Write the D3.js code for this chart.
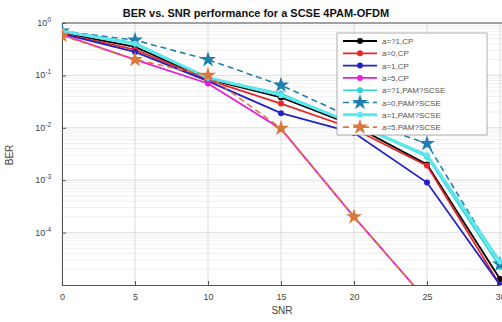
<!DOCTYPE html>
<html>
<head>
<meta charset="utf-8">
<script src="https://cdn.jsdelivr.net/npm/d3@7"></script>
<style>
  body { margin: 0; background: #fff; }
  text { font-family: "Liberation Sans", Arial, sans-serif; }
</style>
</head>
<body>
<svg id="svg" width="502" height="322"></svg>
<script>
// data
const snr = [0, 5, 10, 15, 20, 25, 30];
const berInfCP   = [0.65, 0.35, 0.085, 0.038, 0.011, 0.002, 1.3e-5];
const ber0CP     = [0.63, 0.31, 0.082, 0.029, 0.0095, 0.0019, 1.0e-5];
const ber1CP     = [0.62, 0.28, 0.078, 0.019, 0.008, 0.0009, 1.0e-5];
const ber5CP     = [0.6, 0.2, 0.07, 0.0095, 0.0002, 5e-6, 1e-7];
const berInfPAM  = [0.7, 0.42, 0.09, 0.045, 0.012, 0.0028, 2.2e-5];
const ber0PAM    = [0.7, 0.47, 0.2, 0.065, 0.015, 0.005, 2.5e-5];
const ber1PAM    = [0.7, 0.4, 0.09, 0.042, 0.012, 0.003, 2.8e-5];
const ber5PAM    = [0.58, 0.2, 0.1, 0.0098, 0.0002, 5e-6, 1e-7];
const seriesNames = ['a=?1,CP', 'a=0,CP', 'a=1,CP', 'a=5,CP', 'a=?1,PAM?SCSE', 'a=0,PAM?SCSE', 'a=1,PAM?SCSE', 'a=5,PAM?SCSE'];
const xTicks = [0, 5, 10, 15, 20, 25, 30];
const yTicks = [0, -1, -2, -3, -4];

const series = [
  {name: seriesNames[0], values: berInfCP,  color: '#000000', dash: null, marker: 'circle', width: 1.8},
  {name: seriesNames[1], values: ber0CP,    color: '#e8262b', dash: null, marker: 'circle', width: 1.8},
  {name: seriesNames[2], values: ber1CP,    color: '#2222c8', dash: null, marker: 'circle', width: 1.8},
  {name: seriesNames[3], values: ber5CP,    color: '#e81fd8', dash: null, marker: 'circle', width: 1.8},
  {name: seriesNames[4], values: berInfPAM, color: '#2ad8d0', dash: null, marker: 'circle', width: 1.6},
  {name: seriesNames[5], values: ber0PAM,   color: '#1f7fb0', dash: '6,4', marker: 'star', width: 1.6},
  {name: seriesNames[6], values: ber1PAM,   color: '#5ce6ee', dash: null, marker: 'circle', width: 3},
  {name: seriesNames[7], values: ber5PAM,   color: '#d9783c', dash: '6,4', marker: 'star', width: 1.6}
];

const svg = d3.select('#svg');
const mLeft = 62, mRight = 500, mTop = 23, mBottom = 285;

const x = d3.scaleLinear().domain([0, 30]).range([mLeft, mRight]);
const y = d3.scaleLog().domain([1e-5, 1]).range([mBottom, mTop]);

// minor grid
const minor = [];
for (let e = -5; e < 0; e++) for (let m = 2; m <= 9; m++) minor.push(m * Math.pow(10, e));
svg.append('g').selectAll('line').data(minor).join('line')
  .attr('x1', mLeft).attr('x2', 502)
  .attr('y1', d => y(d)).attr('y2', d => y(d))
  .attr('stroke', '#ebebeb').attr('stroke-width', 0.8);

// major grid
svg.append('g').selectAll('line').data(yTicks).join('line')
  .attr('x1', mLeft).attr('x2', 502)
  .attr('y1', d => y(Math.pow(10, d))).attr('y2', d => y(Math.pow(10, d)))
  .attr('stroke', '#d4d4d4').attr('stroke-width', 0.8);
svg.append('g').selectAll('line').data(xTicks).join('line')
  .attr('x1', d => x(d)).attr('x2', d => x(d))
  .attr('y1', mTop).attr('y2', mBottom)
  .attr('stroke', '#d4d4d4').attr('stroke-width', 0.8);

// axes
const xAxis = d3.axisBottom(x).tickValues(xTicks).tickSize(-4).tickPadding(9);
const xg = svg.append('g').attr('transform', `translate(0,${mBottom})`).call(xAxis);
xg.select('.domain').attr('stroke', '#555');
xg.selectAll('.tick line').attr('stroke', '#555');
xg.selectAll('.tick text').attr('font-size', 9).attr('fill', '#444');

const yAxis = d3.axisLeft(y).tickValues(yTicks.map(d => Math.pow(10, d))).tickSize(-4).tickFormat('');
const yg = svg.append('g').attr('transform', `translate(${mLeft},0)`).call(yAxis);
yg.select('.domain').attr('stroke', '#555');
yg.selectAll('.tick line').attr('stroke', '#555');
svg.append('line').attr('x1', mLeft).attr('x2', 502).attr('y1', mTop).attr('y2', mTop).attr('stroke', '#555');

const yl = svg.append('g').selectAll('text').data(yTicks).join('text')
  .attr('x', 51).attr('y', d => y(Math.pow(10, d)) + 3)
  .attr('text-anchor', 'end').attr('font-size', 9).attr('fill', '#444');
yl.append('tspan').text('10');
yl.append('tspan').attr('dy', -4).attr('font-size', 6.5).text(d => d);

// title and labels
svg.append('text').attr('x', 256).attr('y', 17).attr('text-anchor', 'middle')
  .attr('font-size', 11).attr('font-weight', 'bold').attr('fill', '#111')
  .text('BER vs. SNR performance for a SCSE 4PAM-OFDM');
svg.append('text').attr('x', 282).attr('y', 314).attr('text-anchor', 'middle')
  .attr('font-size', 10).attr('fill', '#444').text('SNR');
svg.append('text').attr('transform', 'translate(13,155) rotate(-90)').attr('text-anchor', 'middle')
  .attr('font-size', 10).attr('fill', '#444').text('BER');

// lines
svg.append('clipPath').attr('id', 'clip').append('rect')
  .attr('x', mLeft).attr('y', mTop - 4).attr('width', 502 - mLeft).attr('height', mBottom - mTop + 4);
const plot = svg.append('g').attr('clip-path', 'url(#clip)');
const line = d3.line().x((d, i) => x(snr[i])).y(d => y(d));
const star = d3.symbol().type(d3.symbolStar).size(80);

series.forEach(s => {
  plot.append('path').datum(s.values)
    .attr('d', line).attr('fill', 'none')
    .attr('stroke', s.color).attr('stroke-width', s.width)
    .attr('stroke-dasharray', s.dash);
  const pts = plot.append('g').selectAll('g').data(s.values).join('g')
    .attr('transform', (d, i) => `translate(${x(snr[i])},${y(d)})`);
  if (s.marker === 'star') {
    pts.append('path').attr('d', star).attr('fill', s.color);
  } else {
    pts.append('circle').attr('r', 3).attr('fill', s.color);
  }
});

// legend
const lg = svg.append('g').attr('transform', 'translate(337,33)');
lg.append('rect').attr('width', 150).attr('height', 102)
  .attr('fill', '#fff').attr('stroke', '#999').attr('stroke-width', 0.8);
const rows = lg.selectAll('g').data(series).join('g')
  .attr('transform', (d, i) => `translate(0,${8 + i * 12.3})`);
rows.append('line').attr('x1', 6).attr('x2', 40)
  .attr('stroke', d => d.color).attr('stroke-width', d => d.width)
  .attr('stroke-dasharray', d => d.dash);
rows.each(function(d) {
  const g = d3.select(this);
  if (d.marker === 'star') g.append('path').attr('transform', 'translate(23,0)').attr('d', star).attr('fill', d.color);
  else g.append('circle').attr('cx', 23).attr('r', 3).attr('fill', d.color);
});
rows.append('text').attr('x', 45).attr('y', 3).attr('font-size', 8).attr('fill', '#555')
  .text(d => d.name);
</script>
</body>
</html>
